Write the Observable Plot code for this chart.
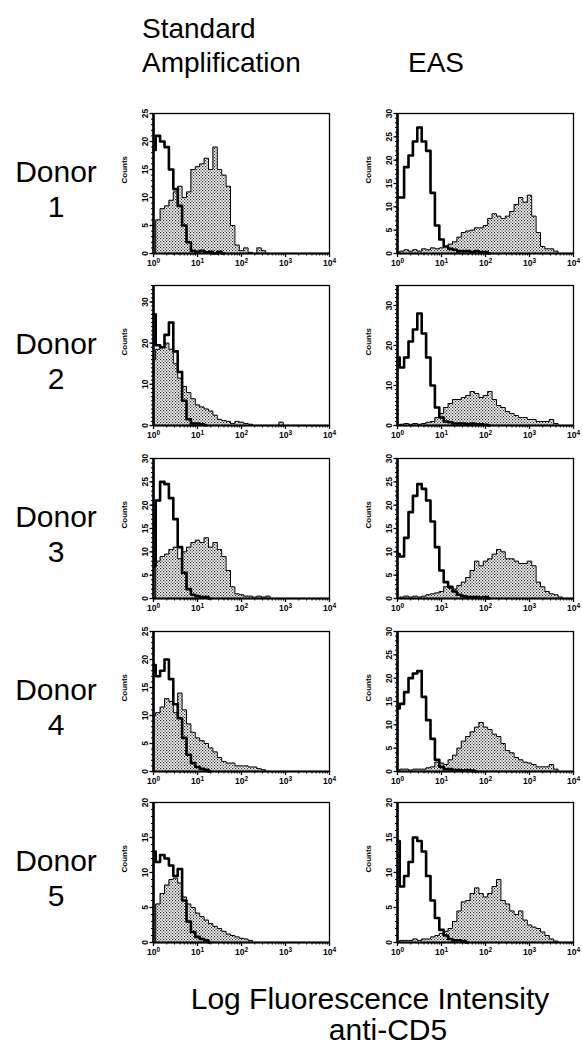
<!DOCTYPE html>
<html><head><meta charset="utf-8">
<script src="https://cdn.jsdelivr.net/npm/d3@7"></script>
<script src="https://cdn.jsdelivr.net/npm/@observablehq/plot@0.6"></script>
<style>
body{margin:0;background:#fff;}
#root{position:relative;width:583px;height:1052px;overflow:hidden;background:#fff}
.panel{position:absolute}
#overlay{position:absolute;left:0;top:0;pointer-events:none}
</style></head><body><div id="root"></div>
<script>
// ---------- data ----------
// histogram channels, in decades of log fluorescence (x = 10^bin)
const logBins = [0,0.1,0.2,0.3,0.4,0.5,0.6,0.7,0.8,0.9,1.0,1.1,1.2,1.3,1.4,1.5,1.6,1.7,1.8,1.9,2.0,2.1,2.2,2.3,2.4,2.5,2.6,2.7,2.8,2.9,3.0,3.1,3.2,3.3,3.4,3.5,3.6,3.7,3.8,3.9,4.0];
const donors = ["1","2","3","4","5"];
const columnTitles = [["Standard","Amplification"],["EAS"]];
const xTickValues = [1,10,100,1000,10000];
const xTickExponents = ["0","1","2","3","4"];
const yAxisLabel = "Counts";
const titleLines = ["Log Fluorescence Intensity","anti-CD5"];

const yMaxStd = [25,34,30,25,20];
const yMaxEas = [30,35,30,30,20];
const yTicksStd = [[0,5,10,15,20,25],[0,10,20,30],[0,5,10,15,20,25,30],[0,5,10,15,20,25],[0,5,10,15,20]];
const yTicksEas = [[0,5,10,15,20,25,30],[0,10,20,30],[0,5,10,15,20,25,30],[0,5,10,15,20,25,30],[0,5,10,15,20]];

// control (thick line) and anti-CD5 stained (stippled) histograms
const std1Control = [18.5,21,20,19,15,11.5,8.5,5,2,0.5,0.3,0.5,0.2,0.3,0,0.3,0];
const std1Stained = [0,6,8,8.5,9.5,11,12,10,11,15,15.5,16,17,15,19,15,14,12,5,1.5,0.5,1,0.2,0,1,0.5,0];
const eas1Control = [12,12,18.5,21,24,27,24,22,13,6,3,1.5,1,0.8,0.5,0.5,0.5,0.3,0.5,0.3,0.3,0];
const eas1Stained = [0,0.5,0.8,0.5,0.8,0.5,1,0.8,1.2,1,1.2,1.5,2,2.5,3.5,4.5,4.8,5,5.5,5.5,6,7.5,8.5,8,7.5,8,9,10.5,12,11,12.5,8,4.5,1.5,1,1,0.5,0];

const std2Control = [27,19.5,19,22,25,18,13,6,1.5,0.5,0.5,0.3,0];
const std2Stained = [16,18.5,19,20,18.5,15,11.5,9.5,8,6.5,5,4.5,4,3.5,2.5,1.5,1.2,1,0.5,1,0.8,0.5,0.3,0,0,0,0,0,0,0.8,0];
const eas2Control = [17,14.5,17,21,24,28,23,17,10,4.5,2,1,0.8,0.5,0.5,0.5,0.3,0.5,0.3,0.3,0.2,0];
const eas2Stained = [0,0.3,0.5,0.3,0.5,0.3,0.5,0.8,1,2,3,4.5,5.5,6.5,6.5,7,7.5,8.5,8,7,7.5,8.5,6.5,5,4.5,3.5,3,2.5,2,2,1.5,1.5,1,1,1,1.5,0.5,0];

const std3Control = [7,21,25,24.5,21.5,17,11,5.5,2,0.8,0.5,0.3,0.3,0];
const std3Stained = [0,8,9,9.5,10.5,11,8.5,10,11,12,12.5,12,13,11,12,10.5,9,6,2.5,1,0.8,0.5,0.5,0.3,0.5,0.3,0.5,0];
const eas3Control = [9.5,9,13,18.5,22,24.5,23.5,21,16.5,11,6,3.5,2.5,1.5,0.8,0.5,0.3,0.3,0.3,0.2,0.3,0];
const eas3Stained = [0,0.3,0.5,0.3,0.5,0.3,0.5,0.8,1,1.2,1.5,2.5,2.2,2,2.8,3.5,4.5,6,8,7,8,8.5,9.5,10.5,10,8.5,8.5,8,7.5,7.5,8,7,3.5,2.5,1.5,1,0.8,0.3,0];

const std4Control = [19,17,18,20,16.5,12,9.5,6,3,1.5,0.8,0.5,0.3,0];
const std4Stained = [10,10.5,11.5,13,12.5,10.5,14,11,8.5,7,6,5.5,5,4.2,3.5,2.5,1.8,1.5,1.5,1,1,1,0.8,0.8,0.5,0.3,0];
const eas4Control = [13.5,14.5,17,20,21,21.5,16,11,7,2.5,1,0.5,0.5,0.3,0.3,0.2,0.3,0.2,0];
const eas4Stained = [0,0.5,0.5,0.3,0.5,0.5,0.5,0.8,1,2,1.8,1.5,2.5,3.5,5,6.5,7.5,8.5,9.5,10.5,9.5,9,8,7.5,6,4.5,4,3,2.5,2,1.8,1.5,1,1,1,1.5,0.5,0];

const std5Control = [13,11.5,12.5,12,11,9.5,10.5,6,3,1.5,0.8,0.5,0.3,0];
const std5Stained = [0,5.5,7,8.2,9,9.2,8.5,6.5,5.5,5,4.2,3.7,3.2,2.7,2.3,2,1.6,1.2,1,0.8,0.6,0.5,0.3,0];
const eas5Control = [14.5,8,9.5,11.5,15,14.5,13,9.5,6,3.5,1.8,1,0.5,0.3,0.3,0.2,0];
const eas5Stained = [0,0.3,0.3,0.3,0.5,0.3,0.5,0.5,0.8,1,1.3,1.6,2,3,4.5,5.8,6,7,7.8,7,6.5,7,8,9,6,5.5,4.5,4,4.5,3.2,2.5,2.2,2,1.5,1,0.5,0.2,0];

const stdControls = [std1Control,std2Control,std3Control,std4Control,std5Control];
const stdStained = [std1Stained,std2Stained,std3Stained,std4Stained,std5Stained];
const easControls = [eas1Control,eas2Control,eas3Control,eas4Control,eas5Control];
const easStained = [eas1Stained,eas2Stained,eas3Stained,eas4Stained,eas5Stained];

// ---------- layout ----------
const W = 583, H = 1052;
const rowTops = [113,285,458,631,802];
const plotH = 140, plotW = 176;
const colLeft = [153,397];
const mL = 53, mR = 8, mT = 10, mB = 26;

const root = document.getElementById("root");
const toPts = arr => arr.map((v,i)=>({x: Math.pow(10, logBins[i]), y: v}));
const minorX = [];
for (let d=1; d<10000; d*=10) for (let k=2;k<10;k++) minorX.push(d*k);

let pid = 0;
function panel(control, stained, ymax, yticks, left, top) {
  const id = "stip" + (pid++);
  const minorY = d3.range(0, ymax + 0.001, 1);
  const svg = Plot.plot({
    width: mL + plotW + mR, height: mT + plotH + mB,
    marginLeft: mL, marginRight: mR, marginTop: mT, marginBottom: mB,
    style: {fontFamily: "'Liberation Sans', Arial, sans-serif", background: "transparent", color: "black", overflow: "visible"},
    x: {type: "log", domain: [1, 10000]},
    y: {domain: [0, ymax]},
    marks: [
      Plot.areaY(toPts(stained), {x: "x", y: "y", curve: "step", fill: `url(#${id})`}),
      Plot.lineY(toPts(stained), {x: "x", y: "y", curve: "step", stroke: "black", strokeWidth: 1}),
      Plot.lineY(toPts(control), {x: "x", y: "y", curve: "step", stroke: "black", strokeWidth: 2.6}),
      Plot.frame({stroke: "black", strokeWidth: 1.3}),
      Plot.ruleY([0], {stroke: "black", strokeWidth: 2.2}),
      Plot.ruleX([1], {stroke: "black", strokeWidth: 2.6}),
      Plot.axisX({ticks: xTickValues, tickSize: 4, tickPadding: 2, strokeWidth: 1.3,
        tickFormat: d => "10^" + xTickExponents[xTickValues.indexOf(d)], fontSize: 8.5, fontWeight: "bold", label: null}),
      Plot.axisX({ticks: minorX, tickSize: 2.5, tickFormat: () => "", label: null}),
      Plot.axisY({ticks: yticks, tickSize: 3.5, tickPadding: 2, tickRotate: -90, fontSize: 8.5, fontWeight: "bold", label: null, strokeWidth: 1.3}),
      Plot.axisY({ticks: minorY, tickSize: 2, tickFormat: () => "", label: null}),
      Plot.text([yAxisLabel], {frameAnchor: "left", text: d => d, rotate: -90, dx: -29, fontSize: 8, fontWeight: "bold"})
    ]
  });
  // stipple pattern
  const defs = d3.select(svg).insert("defs", ":first-child");
  const pat = defs.append("pattern").attr("id", id).attr("width", 3).attr("height", 3).attr("patternUnits", "userSpaceOnUse");
  pat.append("rect").attr("width", 3).attr("height", 3).attr("fill", "#fff");
  pat.append("rect").attr("x", 0).attr("y", 0).attr("width", 1.2).attr("height", 1.2).attr("fill", "#222");
  pat.append("rect").attr("x", 1.5).attr("y", 1.5).attr("width", 1.2).attr("height", 1.2).attr("fill", "#222");
  // superscript exponents on tick labels
  d3.select(svg).selectAll("text").each(function() {
    const t = this.textContent;
    const m = /^10\^(\d)$/.exec(t);
    if (m) {
      const el = d3.select(this);
      el.text("10");
      el.append("tspan").attr("dy", "-0.45em").attr("font-size", "6.5").text(m[1]);
    }
  });
  svg.classList.add("panel");
  svg.style.left = (left - mL) + "px";
  svg.style.top = (top - mT) + "px";
  root.appendChild(svg);
}

for (let r = 0; r < 5; r++) {
  panel(stdControls[r], stdStained[r], yMaxStd[r], yTicksStd[r], colLeft[0], rowTops[r]);
  panel(easControls[r], easStained[r], yMaxEas[r], yTicksEas[r], colLeft[1], rowTops[r]);
}

// ---------- text overlay ----------
const ov = d3.select(root).append("svg").attr("id", "overlay").attr("width", W).attr("height", H)
  .attr("font-family", "'Liberation Sans', Arial, sans-serif").attr("fill", "black");
ov.append("text").attr("x", 142).attr("y", 38).attr("font-size", 28).text(columnTitles[0][0]);
ov.append("text").attr("x", 142).attr("y", 72).attr("font-size", 28).text(columnTitles[0][1]);
ov.append("text").attr("x", 408).attr("y", 72).attr("font-size", 28).text(columnTitles[1][0]);
donors.forEach((d, r) => {
  ov.append("text").attr("x", 56).attr("y", rowTops[r] + 69).attr("font-size", 30).attr("text-anchor", "middle").text("Donor");
  ov.append("text").attr("x", 56).attr("y", rowTops[r] + 104).attr("font-size", 30).attr("text-anchor", "middle").text(d);
});
ov.append("text").attr("x", 370).attr("y", 1009).attr("font-size", 30).attr("text-anchor", "middle").text(titleLines[0]);
ov.append("text").attr("x", 388).attr("y", 1040).attr("font-size", 30).attr("text-anchor", "middle").text(titleLines[1]);
</script></body></html>
